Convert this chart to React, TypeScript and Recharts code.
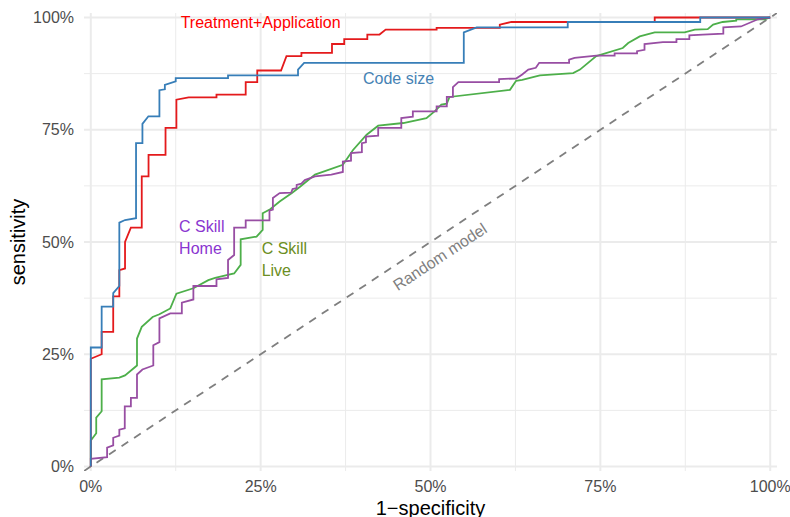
import React from 'react';
import { LineChart, Line, XAxis, YAxis, ReferenceLine, ReferenceDot } from 'recharts';

type Pt = { fpr: number; tpr: number };
const mk = (a: number[][]): Pt[] => a.map(([fpr, tpr]) => ({ fpr, tpr }));

const treatmentApplication = mk([
  [0, 0], [0, 0.24], [0.016, 0.25], [0.016, 0.3], [0.033, 0.3], [0.033, 0.379], [0.042, 0.379],
  [0.042, 0.4375], [0.0504, 0.441], [0.0504, 0.5], [0.059, 0.532], [0.075, 0.532], [0.075, 0.646],
  [0.085, 0.646], [0.085, 0.694], [0.11, 0.694], [0.11, 0.754], [0.126, 0.754], [0.126, 0.817],
  [0.144, 0.822], [0.185, 0.822], [0.185, 0.828], [0.228, 0.828], [0.228, 0.856], [0.245, 0.856],
  [0.245, 0.882], [0.28, 0.882], [0.288, 0.914], [0.31, 0.914], [0.31, 0.921], [0.355, 0.921],
  [0.355, 0.941], [0.373, 0.941], [0.373, 0.952], [0.407, 0.952], [0.407, 0.962], [0.425, 0.962],
  [0.434, 0.973], [0.509, 0.973], [0.509, 0.977], [0.602, 0.977], [0.602, 0.984], [0.619, 0.99],
  [0.83, 0.99], [0.83, 1], [1, 1],
]);

const codeSize = mk([
  [0, 0], [0, 0.265], [0.016, 0.265], [0.016, 0.356], [0.033, 0.356], [0.033, 0.386], [0.042, 0.402],
  [0.042, 0.543], [0.0504, 0.549], [0.0666, 0.553], [0.0666, 0.72], [0.076, 0.72], [0.076, 0.763],
  [0.0848, 0.78], [0.101, 0.78], [0.101, 0.838], [0.109, 0.84], [0.109, 0.85], [0.125, 0.858],
  [0.125, 0.865], [0.202, 0.865], [0.202, 0.871], [0.305, 0.871], [0.305, 0.884], [0.314, 0.899],
  [0.549, 0.899], [0.549, 0.967], [0.568, 0.978], [0.702, 0.978], [0.702, 0.99], [0.897, 0.99],
  [0.897, 1], [1, 1],
]);

const cSkillLive = mk([
  [0, 0], [0, 0.058], [0.008, 0.074], [0.008, 0.109], [0.016, 0.123], [0.016, 0.194], [0.042, 0.198],
  [0.0504, 0.203], [0.068, 0.225], [0.068, 0.285], [0.075, 0.311], [0.091, 0.333], [0.101, 0.339],
  [0.117, 0.352], [0.126, 0.385], [0.151, 0.397], [0.173, 0.415], [0.183, 0.42], [0.2, 0.426],
  [0.211, 0.43], [0.2206, 0.449], [0.2206, 0.506], [0.244, 0.512], [0.253, 0.527], [0.253, 0.564],
  [0.264, 0.573], [0.278, 0.59], [0.296, 0.609], [0.308, 0.623], [0.33, 0.65], [0.371, 0.672],
  [0.386, 0.705], [0.406, 0.739], [0.423, 0.759], [0.46, 0.765], [0.494, 0.776], [0.506, 0.791],
  [0.516, 0.806], [0.524, 0.808], [0.528, 0.823], [0.617, 0.839], [0.626, 0.859], [0.635, 0.861],
  [0.661, 0.871], [0.71, 0.876], [0.72, 0.884], [0.744, 0.914], [0.783, 0.932], [0.791, 0.943],
  [0.808, 0.958], [0.83, 0.967], [0.874, 0.967], [0.889, 0.973], [0.908, 0.974], [0.916, 0.984],
  [0.93, 0.99], [0.95, 0.993], [0.95, 0.996], [0.992, 0.996], [1, 1],
]);

const cSkillHome = mk([
  [0, 0], [0, 0.017], [0.024, 0.021], [0.024, 0.042], [0.033, 0.047], [0.033, 0.064], [0.042, 0.069],
  [0.042, 0.082], [0.05, 0.085], [0.05, 0.134], [0.059, 0.134], [0.059, 0.153], [0.068, 0.153],
  [0.068, 0.205], [0.076, 0.216], [0.092, 0.225], [0.092, 0.27], [0.101, 0.277], [0.101, 0.33],
  [0.117, 0.341], [0.134, 0.341], [0.134, 0.365], [0.151, 0.372], [0.151, 0.402], [0.185, 0.402],
  [0.185, 0.417], [0.202, 0.42], [0.202, 0.46], [0.211, 0.471], [0.211, 0.532], [0.228, 0.532],
  [0.228, 0.548], [0.263, 0.548], [0.263, 0.57], [0.268, 0.572], [0.268, 0.598], [0.278, 0.609],
  [0.295, 0.61], [0.297, 0.618], [0.303, 0.62], [0.303, 0.627], [0.31, 0.63], [0.315, 0.638],
  [0.33, 0.646], [0.354, 0.65], [0.371, 0.656], [0.371, 0.679], [0.383, 0.681], [0.383, 0.698],
  [0.399, 0.7], [0.399, 0.72], [0.405, 0.722], [0.405, 0.735], [0.423, 0.737], [0.423, 0.754],
  [0.457, 0.754], [0.457, 0.776], [0.474, 0.779], [0.474, 0.791], [0.509, 0.791], [0.509, 0.802],
  [0.524, 0.802], [0.524, 0.823], [0.533, 0.823], [0.533, 0.845], [0.541, 0.856], [0.601, 0.856],
  [0.601, 0.863], [0.626, 0.864], [0.635, 0.873], [0.644, 0.884], [0.655, 0.888], [0.66, 0.899],
  [0.704, 0.899], [0.704, 0.906], [0.712, 0.91], [0.744, 0.915], [0.771, 0.915], [0.771, 0.92],
  [0.804, 0.92], [0.804, 0.925], [0.815, 0.928], [0.815, 0.941], [0.842, 0.945], [0.862, 0.945],
  [0.862, 0.952], [0.881, 0.952], [0.881, 0.96], [0.901, 0.962], [0.931, 0.964], [0.931, 0.978],
  [0.957, 0.98], [0.982, 0.996], [1, 1],
]);

const randomModel = mk([[-0.01, -0.01], [1.01, 1.01]]);

const majorTicks = [0, 0.25, 0.5, 0.75, 1];
const minorTicks = [0.125, 0.375, 0.625, 0.875];
const axisDomain: [number, number] = [-0.01, 1.01];

type Ann = { lines: string[]; x: number; y: number; color: string; align: 'middle' | 'start'; angle?: number };
const annotations: Ann[] = [
  { lines: ['Treatment+Application'], x: 0.25, y: 0.988, color: '#FF0000', align: 'middle' },
  { lines: ['Code size'], x: 0.453, y: 0.865, color: '#4682B4', align: 'middle' },
  { lines: ['C Skill', 'Home'], x: 0.13, y: 0.511, color: '#8A35D0', align: 'start' },
  { lines: ['C Skill', 'Live'], x: 0.2515, y: 0.462, color: '#6B8E23', align: 'start' },
  { lines: ['Random model'], x: 0.514, y: 0.467, color: '#7F7F7F', align: 'middle', angle: -33.4 },
];

const FONT = '"Liberation Sans", Arial, sans-serif';
const pct = (v: number) => `${Math.round(v * 100)}%`;

export default function App() {
  return (
    <div style={{ position: 'absolute', left: 0, top: 0, fontFamily: FONT }}>
      <LineChart width={790} height={517} margin={{ top: 13, right: 13, left: 0, bottom: 0 }}>
        <XAxis
          type="number"
          dataKey="fpr"
          domain={axisDomain}
          ticks={majorTicks}
          tickFormatter={pct}
          axisLine={false}
          tickLine={false}
          tickMargin={4}
          height={46}
          tick={{ fill: '#4D4D4D', fontSize: 16, fontFamily: FONT }}
          allowDataOverflow
          label={{ value: '1\u2212specificity', position: 'insideBottom', offset: 2, fill: '#000', fontSize: 20, fontFamily: FONT }}
        />
        <YAxis
          type="number"
          dataKey="tpr"
          domain={axisDomain}
          ticks={majorTicks}
          tickFormatter={pct}
          axisLine={false}
          tickLine={false}
          tickMargin={4}
          width={84}
          tick={{ fill: '#4D4D4D', fontSize: 16, fontFamily: FONT }}
          allowDataOverflow
          label={{ value: 'sensitivity', angle: -90, position: 'insideLeft', offset: 18, fill: '#000', fontSize: 20, fontFamily: FONT, style: { textAnchor: 'middle' } }}
        />
        {minorTicks.map((v) => (
          <ReferenceLine key={'mx' + v} x={v} stroke="#EBEBEB" strokeWidth={1} />
        ))}
        {minorTicks.map((v) => (
          <ReferenceLine key={'my' + v} y={v} stroke="#EBEBEB" strokeWidth={1} />
        ))}
        {majorTicks.map((v) => (
          <ReferenceLine key={'Mx' + v} x={v} stroke="#EBEBEB" strokeWidth={2} />
        ))}
        {majorTicks.map((v) => (
          <ReferenceLine key={'My' + v} y={v} stroke="#EBEBEB" strokeWidth={2} />
        ))}
        <Line data={randomModel} dataKey="tpr" stroke="#7F7F7F" strokeWidth={1.8} strokeDasharray="8 7" dot={false} activeDot={false} isAnimationActive={false} />
        <Line data={cSkillLive} dataKey="tpr" stroke="#4DAF4A" strokeWidth={1.8} dot={false} activeDot={false} isAnimationActive={false} />
        <Line data={cSkillHome} dataKey="tpr" stroke="#984EA3" strokeWidth={1.8} dot={false} activeDot={false} isAnimationActive={false} />
        <Line data={treatmentApplication} dataKey="tpr" stroke="#E41A1C" strokeWidth={1.8} dot={false} activeDot={false} isAnimationActive={false} />
        <Line data={codeSize} dataKey="tpr" stroke="#377EB8" strokeWidth={1.8} dot={false} activeDot={false} isAnimationActive={false} />
        {annotations.map((a, i) => (
          <ReferenceDot
            key={'a' + i}
            x={a.x}
            y={a.y}
            r={0}
            shape={(p: any) => {
              const cx = p.cx;
              const cy = p.cy;
              if (a.lines.length === 1) {
                return (
                  <text
                    x={cx}
                    y={cy}
                    fill={a.color}
                    fontSize={16}
                    fontFamily={FONT}
                    textAnchor={a.align}
                    dominantBaseline="central"
                    transform={a.angle ? `rotate(${a.angle} ${cx} ${cy})` : undefined}
                  >
                    {a.lines[0]}
                  </text>
                );
              }
              return (
                <text x={cx} y={cy} fill={a.color} fontSize={16} fontFamily={FONT} textAnchor={a.align}>
                  {a.lines.map((l, j) => (
                    <tspan key={j} x={cx} y={cy - 5.5 + j * 22.6}>
                      {l}
                    </tspan>
                  ))}
                </text>
              );
            }}
          />
        ))}
      </LineChart>
    </div>
  );
}
